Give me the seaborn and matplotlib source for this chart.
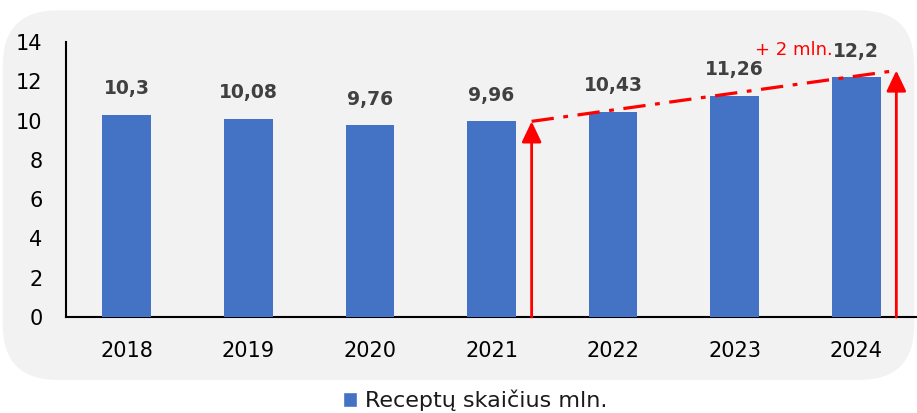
import numpy as np
import matplotlib
matplotlib.use('Agg')
import matplotlib.pyplot as plt
from matplotlib.patches import FancyBboxPatch, Patch
import seaborn as sns

# data
years = ['2018', '2019', '2020', '2021', '2022', '2023', '2024']
prescriptions = [10.3, 10.08, 9.76, 9.96, 10.43, 11.26, 12.2]
series_name = 'Receptų skaičius mln.'

# growth annotation: arrow heights and trend line ends
trend_start = 9.96
trend_end = 12.55
trend_note = '+ 2 mln.'

BAR_COLOR = '#4472c4'
RED = '#ff0000'

sns.set_theme(style='white')
plt.rcParams['font.family'] = ['DejaVu Sans']

fig = plt.figure(figsize=(9.17, 4.13), dpi=100)
fig.patch.set_facecolor('white')

# rounded grey panel behind the chart
bg = FancyBboxPatch((0.003, 0.08), 0.994, 0.895, transform=fig.transFigure,
                    boxstyle='round,pad=0,rounding_size=0.06',
                    mutation_aspect=917 / 413, facecolor='#f2f2f2',
                    edgecolor='none', zorder=-10)
fig.patches.append(bg)

ax = fig.add_axes([0.072, 0.2324, 0.928, 0.6659])
ax.set_facecolor('none')

sns.barplot(x=years, y=prescriptions, color=BAR_COLOR, width=0.4,
            saturation=1, linewidth=0, ax=ax, zorder=3)

labels = [f'{v:g}'.replace('.', ',') for v in prescriptions]
ax.bar_label(ax.containers[0], labels=labels, padding=12, fontsize=13.5,
             fontweight='bold', color='#404040')

ax.set_ylim(0, 14)
ax.set_xlim(-0.5, len(years) - 0.5)
ax.set_yticks(np.arange(0, 15, 2))
ax.tick_params(axis='y', length=0, pad=17, labelsize=15, labelcolor='black')
ax.tick_params(axis='x', length=0, pad=17, labelsize=15, labelcolor='black')
ax.set_xlabel('')
ax.set_ylabel('')
for side in ['top', 'right']:
    ax.spines[side].set_visible(False)
for side in ['left', 'bottom']:
    ax.spines[side].set_color('black')
    ax.spines[side].set_linewidth(1.5)

# growth arrows and dash-dot trend line
x0 = years.index('2021') + 0.33
x1 = years.index('2024') + 0.33
for xa, ya in [(x0, trend_start), (x1, trend_end)]:
    ax.annotate('', xy=(xa, ya), xytext=(xa, 0),
                arrowprops=dict(arrowstyle='-|>,head_width=0.5,head_length=1.05',
                                color=RED, lw=2, shrinkA=0, shrinkB=0),
                zorder=5)
ax.plot([x0, x1], [trend_start, trend_end], color=RED, lw=2.3,
        linestyle=(0, (7, 3, 1.5, 3)), zorder=5)
ax.text(5.17, 13.6, trend_note, color=RED, fontsize=13, ha='left',
        va='center', zorder=6)

fig.legend(handles=[Patch(facecolor=BAR_COLOR, label=series_name)],
           loc='center', bbox_to_anchor=(0.518, 0.031), frameon=False,
           fontsize=16, handlelength=0.65, handleheight=0.65,
           handletextpad=0.35, labelcolor='#1a1a1a')

fig.savefig('out.png', dpi=100)
